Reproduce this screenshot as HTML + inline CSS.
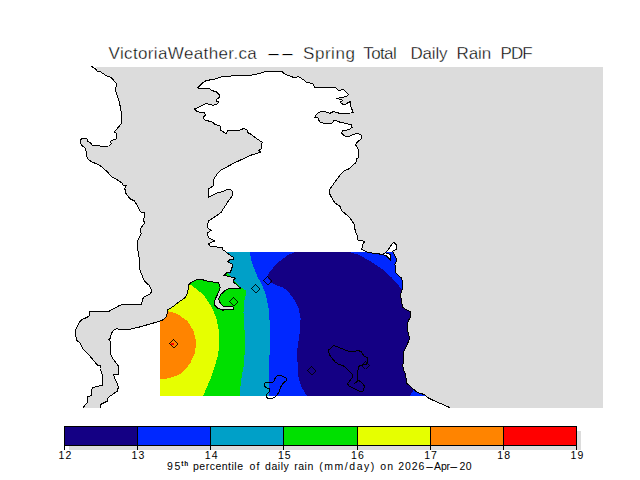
<!DOCTYPE html>
<html><head><meta charset="utf-8"><title>VictoriaWeather.ca -- Spring Total Daily Rain PDF</title>
<style>
html,body{margin:0;padding:0;background:#fff;}
body{width:640px;height:480px;position:relative;overflow:hidden;font-family:"Liberation Sans",sans-serif;color:#000;}
.w{position:absolute;line-height:20px;white-space:nowrap;display:block;}
.title .w{-webkit-text-stroke:0.35px #fff;}
</style></head><body>
<svg width="640" height="480" viewBox="0 0 640 480" style="position:absolute;left:0;top:0" shape-rendering="crispEdges"><defs><clipPath id="land"><polygon points="100.2,407.8 100.6,404.4 107.2,401.2 107.5,398.8 110.0,396.2 117.2,391.2 118.5,386.9 113.5,375.0 118.5,374.0 118.5,366.2 113.8,360.0 110.2,354.0 110.2,341.2 109.0,339.4 110.6,338.1 111.2,333.8 113.8,330.0 116.9,328.5 119.4,329.4 131.2,329.0 140.0,326.9 150.0,324.0 160.0,321.2 163.1,319.7 166.9,316.0 167.2,310.3 174.4,305.6 176.2,303.8 184.7,298.1 187.5,293.4 188.4,288.0 188.6,285.0 190.3,283.1 196.9,279.6 200.6,279.2 209.4,281.6 218.1,282.7 219.4,284.7 220.3,287.5 219.1,290.6 217.2,295.0 215.4,298.8 214.4,302.5 214.7,305.3 217.5,308.1 220.6,309.1 223.1,310.3 224.4,309.5 232.5,309.5 233.9,308.8 233.8,307.5 231.9,306.6 223.4,306.2 220.6,303.8 219.1,300.6 218.8,298.1 220.6,294.7 223.8,291.6 226.9,289.4 230.0,288.4 238.8,288.1 241.2,288.1 238.4,286.6 236.2,284.1 233.4,282.2 233.8,279.4 235.6,278.4 233.8,277.8 230.0,276.6 224.4,275.3 227.2,272.4 230.9,272.0 231.2,268.1 232.5,266.9 231.9,263.8 229.4,262.8 228.1,261.6 230.0,259.4 231.6,260.0 233.4,259.4 233.4,257.2 231.2,256.0 228.4,254.0 226.2,252.5 225.3,251.0 223.1,250.3 222.2,247.8 209.6,245.9 208.5,243.5 214.7,240.9 208.1,237.5 207.8,232.8 211.0,230.4 207.8,228.1 207.2,224.4 209.0,220.6 217.5,215.0 221.2,212.2 227.8,201.9 232.1,195.9 232.5,191.6 231.0,189.7 226.9,189.7 222.2,191.6 217.5,192.9 208.5,197.2 208.1,191.6 209.0,188.4 213.4,185.9 213.8,179.4 216.6,174.7 221.2,170.0 233.4,163.4 250.3,155.4 260.6,152.2 258.8,150.3 261.6,148.8 262.1,142.2 255.0,137.5 251.9,134.8 248.1,132.8 246.9,130.0 243.8,128.5 240.0,130.0 227.5,130.6 226.2,133.8 220.6,130.0 220.0,126.0 215.0,124.4 212.5,122.2 204.4,119.8 203.1,117.5 205.6,115.0 204.4,112.5 197.5,111.9 194.4,109.0 201.2,106.0 205.6,103.5 208.1,104.0 212.5,105.2 216.9,104.4 218.8,102.2 216.9,101.2 216.5,99.4 219.4,97.5 219.4,95.0 216.2,91.5 211.2,90.6 209.4,88.1 206.2,88.5 199.4,89.0 198.1,87.5 202.5,83.1 206.2,80.6 216.2,78.8 222.5,76.4 237.5,75.7 250.6,75.3 259.7,73.4 265.3,71.5 282.2,71.9 285.6,74.6 293.1,77.2 298.8,76.9 304.4,80.2 306.2,82.5 312.8,83.4 314.7,87.2 335.3,87.2 338.1,90.4 343.8,89.6 348.4,94.7 346.6,96.6 337.2,98.4 342.8,100.3 340.0,102.2 343.8,105.0 350.3,101.6 350.9,106.9 353.5,112.9 340.0,113.4 333.4,111.6 329.7,113.4 325.0,111.6 319.4,112.1 316.6,114.4 314.7,117.2 318.4,118.1 319.4,121.9 325.9,123.8 331.6,123.8 334.4,120.0 340.0,122.2 351.2,124.7 352.2,127.5 348.4,129.8 342.8,130.9 341.5,133.1 344.7,135.9 348.4,136.5 356.9,133.1 361.0,135.0 361.6,138.4 356.9,142.5 355.6,145.0 358.5,149.4 359.0,157.2 356.6,158.8 355.9,162.9 352.5,165.3 349.7,168.5 344.0,170.9 340.3,174.7 333.8,183.5 330.0,189.1 329.4,193.4 331.9,198.1 334.7,202.8 339.8,206.0 342.2,211.2 347.8,215.9 350.6,218.8 354.4,224.4 355.3,231.9 356.9,235.0 358.1,240.0 362.5,240.6 364.4,241.9 362.5,244.4 361.9,249.4 366.2,251.9 372.5,253.1 382.5,254.4 385.4,252.9 388.0,250.0 392.0,244.0 393.8,242.5 396.9,245.6 396.2,249.4 392.5,251.2 394.4,254.4 397.1,260.0 395.0,264.4 395.3,272.5 399.4,276.2 401.5,278.1 402.5,282.5 402.2,289.0 400.9,293.8 401.0,298.4 402.5,306.9 406.2,309.7 410.4,311.6 410.4,317.2 408.1,320.9 407.2,328.4 409.6,338.8 407.2,344.4 403.4,351.9 404.0,357.8 402.8,365.6 403.6,370.3 405.9,374.2 406.2,382.8 411.4,387.2 415.3,390.9 420.0,393.4 424.4,394.5 427.8,397.7 432.5,400.0 449.7,407.5"/></clipPath><clipPath id="plot"><rect x="160" y="252" width="280" height="144"/></clipPath><clipPath id="map"><rect x="60" y="67" width="543" height="341"/></clipPath></defs><g clip-path="url(#map)"><polygon points="96.0,67.0 98.0,72.0 100.0,71.5 106.0,75.5 111.0,77.5 116.5,83.5 115.5,90.0 119.5,102.5 121.2,112.5 121.2,122.5 121.5,123.5 114.4,131.9 116.5,133.1 116.5,138.8 113.1,140.0 110.2,141.2 111.2,143.8 108.8,146.0 100.0,146.2 99.0,145.4 92.5,145.4 90.0,142.5 87.5,141.2 86.9,138.8 85.6,138.4 81.9,138.8 80.2,140.0 80.2,143.1 82.5,146.2 85.0,147.8 86.2,151.2 86.5,156.2 88.8,160.0 92.5,162.2 99.4,165.0 103.8,168.8 107.5,171.9 110.0,175.0 112.5,177.5 115.6,178.5 121.9,183.1 123.1,185.0 126.2,185.2 124.4,189.4 125.6,190.0 125.6,193.1 130.6,199.4 134.4,200.6 140.6,211.9 144.4,212.5 143.8,221.2 144.8,223.1 141.2,227.5 140.5,230.0 141.2,233.8 138.0,240.0 137.5,247.5 139.2,258.0 139.2,268.4 142.5,276.4 144.4,281.1 149.1,285.3 151.4,289.5 151.7,291.4 150.0,294.2 144.4,296.8 143.0,298.4 142.2,300.6 141.5,304.9 132.5,304.9 132.2,304.2 123.8,304.2 120.0,305.2 110.0,310.6 109.5,311.4 89.5,311.4 89.5,315.6 86.2,317.8 83.1,318.8 79.4,321.9 77.5,326.2 75.6,329.4 75.6,335.0 76.9,340.6 79.4,342.2 82.5,348.1 85.6,351.9 88.8,354.8 93.1,360.0 97.5,365.2 100.2,365.6 100.0,368.8 102.5,375.0 102.8,385.0 92.2,387.8 91.2,395.6 87.8,396.9 87.2,402.5 83.1,407.8 83.1,408.0 603.0,408.0 603.0,67.0" fill="#dcdcdc"/><polygon points="100.2,407.8 100.6,404.4 107.2,401.2 107.5,398.8 110.0,396.2 117.2,391.2 118.5,386.9 113.5,375.0 118.5,374.0 118.5,366.2 113.8,360.0 110.2,354.0 110.2,341.2 109.0,339.4 110.6,338.1 111.2,333.8 113.8,330.0 116.9,328.5 119.4,329.4 131.2,329.0 140.0,326.9 150.0,324.0 160.0,321.2 163.1,319.7 166.9,316.0 167.2,310.3 174.4,305.6 176.2,303.8 184.7,298.1 187.5,293.4 188.4,288.0 188.6,285.0 190.3,283.1 196.9,279.6 200.6,279.2 209.4,281.6 218.1,282.7 219.4,284.7 220.3,287.5 219.1,290.6 217.2,295.0 215.4,298.8 214.4,302.5 214.7,305.3 217.5,308.1 220.6,309.1 223.1,310.3 224.4,309.5 232.5,309.5 233.9,308.8 233.8,307.5 231.9,306.6 223.4,306.2 220.6,303.8 219.1,300.6 218.8,298.1 220.6,294.7 223.8,291.6 226.9,289.4 230.0,288.4 238.8,288.1 241.2,288.1 238.4,286.6 236.2,284.1 233.4,282.2 233.8,279.4 235.6,278.4 233.8,277.8 230.0,276.6 224.4,275.3 227.2,272.4 230.9,272.0 231.2,268.1 232.5,266.9 231.9,263.8 229.4,262.8 228.1,261.6 230.0,259.4 231.6,260.0 233.4,259.4 233.4,257.2 231.2,256.0 228.4,254.0 226.2,252.5 225.3,251.0 223.1,250.3 222.2,247.8 209.6,245.9 208.5,243.5 214.7,240.9 208.1,237.5 207.8,232.8 211.0,230.4 207.8,228.1 207.2,224.4 209.0,220.6 217.5,215.0 221.2,212.2 227.8,201.9 232.1,195.9 232.5,191.6 231.0,189.7 226.9,189.7 222.2,191.6 217.5,192.9 208.5,197.2 208.1,191.6 209.0,188.4 213.4,185.9 213.8,179.4 216.6,174.7 221.2,170.0 233.4,163.4 250.3,155.4 260.6,152.2 258.8,150.3 261.6,148.8 262.1,142.2 255.0,137.5 251.9,134.8 248.1,132.8 246.9,130.0 243.8,128.5 240.0,130.0 227.5,130.6 226.2,133.8 220.6,130.0 220.0,126.0 215.0,124.4 212.5,122.2 204.4,119.8 203.1,117.5 205.6,115.0 204.4,112.5 197.5,111.9 194.4,109.0 201.2,106.0 205.6,103.5 208.1,104.0 212.5,105.2 216.9,104.4 218.8,102.2 216.9,101.2 216.5,99.4 219.4,97.5 219.4,95.0 216.2,91.5 211.2,90.6 209.4,88.1 206.2,88.5 199.4,89.0 198.1,87.5 202.5,83.1 206.2,80.6 216.2,78.8 222.5,76.4 237.5,75.7 250.6,75.3 259.7,73.4 265.3,71.5 282.2,71.9 285.6,74.6 293.1,77.2 298.8,76.9 304.4,80.2 306.2,82.5 312.8,83.4 314.7,87.2 335.3,87.2 338.1,90.4 343.8,89.6 348.4,94.7 346.6,96.6 337.2,98.4 342.8,100.3 340.0,102.2 343.8,105.0 350.3,101.6 350.9,106.9 353.5,112.9 340.0,113.4 333.4,111.6 329.7,113.4 325.0,111.6 319.4,112.1 316.6,114.4 314.7,117.2 318.4,118.1 319.4,121.9 325.9,123.8 331.6,123.8 334.4,120.0 340.0,122.2 351.2,124.7 352.2,127.5 348.4,129.8 342.8,130.9 341.5,133.1 344.7,135.9 348.4,136.5 356.9,133.1 361.0,135.0 361.6,138.4 356.9,142.5 355.6,145.0 358.5,149.4 359.0,157.2 356.6,158.8 355.9,162.9 352.5,165.3 349.7,168.5 344.0,170.9 340.3,174.7 333.8,183.5 330.0,189.1 329.4,193.4 331.9,198.1 334.7,202.8 339.8,206.0 342.2,211.2 347.8,215.9 350.6,218.8 354.4,224.4 355.3,231.9 356.9,235.0 358.1,240.0 362.5,240.6 364.4,241.9 362.5,244.4 361.9,249.4 366.2,251.9 372.5,253.1 382.5,254.4 385.4,252.9 388.0,250.0 392.0,244.0 393.8,242.5 396.9,245.6 396.2,249.4 392.5,251.2 394.4,254.4 397.1,260.0 395.0,264.4 395.3,272.5 399.4,276.2 401.5,278.1 402.5,282.5 402.2,289.0 400.9,293.8 401.0,298.4 402.5,306.9 406.2,309.7 410.4,311.6 410.4,317.2 408.1,320.9 407.2,328.4 409.6,338.8 407.2,344.4 403.4,351.9 404.0,357.8 402.8,365.6 403.6,370.3 405.9,374.2 406.2,382.8 411.4,387.2 415.3,390.9 420.0,393.4 424.4,394.5 427.8,397.7 432.5,400.0 449.7,407.5" fill="#fff"/></g><g clip-path="url(#land)"><g clip-path="url(#plot)"><rect x="150" y="250" width="300" height="150" fill="#0028ff"/><polygon points="295.0,252.0 349.7,252.0 360.0,255.3 371.2,261.9 382.5,269.4 391.9,277.8 398.4,285.3 402.2,290.0 430.0,290.0 430.0,380.0 416.0,384.0 413.4,390.3 409.8,396.0 307.0,396.0 301.9,387.5 300.0,383.0 298.1,375.0 297.5,362.0 297.2,350.0 300.0,330.0 300.6,318.0 298.4,307.8 294.1,299.4 288.4,291.9 282.8,287.2 276.2,285.3 271.2,282.5 268.2,278.6 267.6,276.6 268.8,273.3 273.4,267.5 280.0,261.0 287.5,255.3" fill="#140084"/><polygon points="150.0,252.0 250.0,252.0 251.0,259.0 253.8,267.5 257.5,276.9 262.2,285.3 265.9,294.7 268.4,306.9 269.5,320.0 269.5,355.0 268.8,380.0 268.8,396.0 150.0,396.0" fill="#00a0c8"/><polygon points="150.0,225.0 215.0,262.0 227.3,272.8 229.8,275.4 234.2,280.7 236.6,283.6 241.5,287.8 245.6,290.3 246.3,292.0 245.9,295.0 244.4,300.0 243.5,312.5 244.5,330.0 245.0,347.5 243.8,365.0 241.2,380.0 239.5,396.0 150.0,396.0" fill="#00e000"/><polygon points="150.0,252.0 188.0,275.0 190.3,284.4 198.8,291.0 203.8,295.0 211.2,306.2 216.2,317.5 218.8,330.0 219.5,342.5 218.0,355.0 214.5,367.5 210.0,380.0 206.2,388.8 203.0,396.0 150.0,396.0" fill="#e6ff00"/><polygon points="150.0,300.0 167.5,311.2 177.5,313.8 187.5,321.2 193.8,331.2 196.2,342.5 195.0,352.5 190.0,363.8 181.2,373.8 170.0,378.0 160.0,379.5 150.0,380.0" fill="#ff8400"/><rect x="171" y="343" width="3" height="2" fill="#ff0000"/></g></g><polygon points="382.5,254.4 386.2,255.6 390.2,259.8 390.6,254.4 385.4,252.9" fill="#fff"/><g fill="none" stroke="#000" stroke-width="1"><polyline points="91.0,66.0 95.0,68.5 98.0,72.0 100.0,71.5 106.0,75.5 111.0,77.5 116.5,83.5 115.5,90.0 119.5,102.5 121.2,112.5 121.2,122.5 121.5,123.5 114.4,131.9 116.5,133.1 116.5,138.8 113.1,140.0 110.2,141.2 111.2,143.8 108.8,146.0 100.0,146.2 99.0,145.4 92.5,145.4 90.0,142.5 87.5,141.2 86.9,138.8 85.6,138.4 81.9,138.8 80.2,140.0 80.2,143.1 82.5,146.2 85.0,147.8 86.2,151.2 86.5,156.2 88.8,160.0 92.5,162.2 99.4,165.0 103.8,168.8 107.5,171.9 110.0,175.0 112.5,177.5 115.6,178.5 121.9,183.1 123.1,185.0 126.2,185.2 124.4,189.4 125.6,190.0 125.6,193.1 130.6,199.4 134.4,200.6 140.6,211.9 144.4,212.5 143.8,221.2 144.8,223.1 141.2,227.5 140.5,230.0 141.2,233.8 138.0,240.0 137.5,247.5 139.2,258.0 139.2,268.4 142.5,276.4 144.4,281.1 149.1,285.3 151.4,289.5 151.7,291.4 150.0,294.2 144.4,296.8 143.0,298.4 142.2,300.6 141.5,304.9 132.5,304.9 132.2,304.2 123.8,304.2 120.0,305.2 110.0,310.6 109.5,311.4 89.5,311.4 89.5,315.6 86.2,317.8 83.1,318.8 79.4,321.9 77.5,326.2 75.6,329.4 75.6,335.0 76.9,340.6 79.4,342.2 82.5,348.1 85.6,351.9 88.8,354.8 93.1,360.0 97.5,365.2 100.2,365.6 100.0,368.8 102.5,375.0 102.8,385.0 92.2,387.8 91.2,395.6 87.8,396.9 87.2,402.5 83.1,407.8"/><polyline points="100.2,407.8 100.6,404.4 107.2,401.2 107.5,398.8 110.0,396.2 117.2,391.2 118.5,386.9 113.5,375.0 118.5,374.0 118.5,366.2 113.8,360.0 110.2,354.0 110.2,341.2 109.0,339.4 110.6,338.1 111.2,333.8 113.8,330.0 116.9,328.5 119.4,329.4 131.2,329.0 140.0,326.9 150.0,324.0 160.0,321.2 163.1,319.7 166.9,316.0 167.2,310.3 174.4,305.6 176.2,303.8 184.7,298.1 187.5,293.4 188.4,288.0 188.6,285.0 190.3,283.1 196.9,279.6 200.6,279.2 209.4,281.6 218.1,282.7 219.4,284.7 220.3,287.5 219.1,290.6 217.2,295.0 215.4,298.8 214.4,302.5 214.7,305.3 217.5,308.1 220.6,309.1 223.1,310.3 224.4,309.5 232.5,309.5 233.9,308.8 233.8,307.5 231.9,306.6 223.4,306.2 220.6,303.8 219.1,300.6 218.8,298.1 220.6,294.7 223.8,291.6 226.9,289.4 230.0,288.4 238.8,288.1 241.2,288.1 238.4,286.6 236.2,284.1 233.4,282.2 233.8,279.4 235.6,278.4 233.8,277.8 230.0,276.6 224.4,275.3 227.2,272.4 230.9,272.0 231.2,268.1 232.5,266.9 231.9,263.8 229.4,262.8 228.1,261.6 230.0,259.4 231.6,260.0 233.4,259.4 233.4,257.2 231.2,256.0 228.4,254.0 226.2,252.5 225.3,251.0 223.1,250.3 222.2,247.8 209.6,245.9 208.5,243.5 214.7,240.9 208.1,237.5 207.8,232.8 211.0,230.4 207.8,228.1 207.2,224.4 209.0,220.6 217.5,215.0 221.2,212.2 227.8,201.9 232.1,195.9 232.5,191.6 231.0,189.7 226.9,189.7 222.2,191.6 217.5,192.9 208.5,197.2 208.1,191.6 209.0,188.4 213.4,185.9 213.8,179.4 216.6,174.7 221.2,170.0 233.4,163.4 250.3,155.4 260.6,152.2 258.8,150.3 261.6,148.8 262.1,142.2 255.0,137.5 251.9,134.8 248.1,132.8 246.9,130.0 243.8,128.5 240.0,130.0 227.5,130.6 226.2,133.8 220.6,130.0 220.0,126.0 215.0,124.4 212.5,122.2 204.4,119.8 203.1,117.5 205.6,115.0 204.4,112.5 197.5,111.9 194.4,109.0 201.2,106.0 205.6,103.5 208.1,104.0 212.5,105.2 216.9,104.4 218.8,102.2 216.9,101.2 216.5,99.4 219.4,97.5 219.4,95.0 216.2,91.5 211.2,90.6 209.4,88.1 206.2,88.5 199.4,89.0 198.1,87.5 202.5,83.1 206.2,80.6 216.2,78.8 222.5,76.4 237.5,75.7 250.6,75.3 259.7,73.4 265.3,71.5 282.2,71.9 285.6,74.6 293.1,77.2 298.8,76.9 304.4,80.2 306.2,82.5 312.8,83.4 314.7,87.2 335.3,87.2 338.1,90.4 343.8,89.6 348.4,94.7 346.6,96.6 337.2,98.4 342.8,100.3 340.0,102.2 343.8,105.0 350.3,101.6 350.9,106.9 353.5,112.9 340.0,113.4 333.4,111.6 329.7,113.4 325.0,111.6 319.4,112.1 316.6,114.4 314.7,117.2 318.4,118.1 319.4,121.9 325.9,123.8 331.6,123.8 334.4,120.0 340.0,122.2 351.2,124.7 352.2,127.5 348.4,129.8 342.8,130.9 341.5,133.1 344.7,135.9 348.4,136.5 356.9,133.1 361.0,135.0 361.6,138.4 356.9,142.5 355.6,145.0 358.5,149.4 359.0,157.2 356.6,158.8 355.9,162.9 352.5,165.3 349.7,168.5 344.0,170.9 340.3,174.7 333.8,183.5 330.0,189.1 329.4,193.4 331.9,198.1 334.7,202.8 339.8,206.0 342.2,211.2 347.8,215.9 350.6,218.8 354.4,224.4 355.3,231.9 356.9,235.0 358.1,240.0 362.5,240.6 364.4,241.9 362.5,244.4 361.9,249.4 366.2,251.9 372.5,253.1 382.5,254.4 385.4,252.9 388.0,250.0 392.0,244.0 393.8,242.5 396.9,245.6 396.2,249.4 392.5,251.2 394.4,254.4 397.1,260.0 395.0,264.4 395.3,272.5 399.4,276.2 401.5,278.1 402.5,282.5 402.2,289.0 400.9,293.8 401.0,298.4 402.5,306.9 406.2,309.7 410.4,311.6 410.4,317.2 408.1,320.9 407.2,328.4 409.6,338.8 407.2,344.4 403.4,351.9 404.0,357.8 402.8,365.6 403.6,370.3 405.9,374.2 406.2,382.8 411.4,387.2 415.3,390.9 420.0,393.4 424.4,394.5 427.8,397.7 432.5,400.0 449.7,407.5"/><polygon points="382.5,254.4 386.2,255.6 390.2,259.8 390.6,254.4 385.4,252.9"/><polygon points="333.8,345.0 328.1,350.6 330.0,355.6 335.0,361.9 338.8,364.4 343.1,365.6 347.5,369.4 352.5,374.4 352.2,377.5 347.5,383.8 349.4,386.2 355.0,389.0 359.4,391.2 363.1,391.0 364.4,386.2 362.5,383.1 359.0,380.6 354.4,383.5 357.2,381.2 357.5,372.5 359.0,366.2 362.5,365.0 366.2,364.4 367.5,361.9 367.2,357.5 364.4,356.2 361.2,351.9 358.1,350.2 355.6,351.2 348.1,351.2 342.5,348.8 335.6,346.2"/><polygon points="278.1,375.2 280.6,375.4 283.1,376.5 286.5,378.5 286.2,380.6 283.1,383.5 280.2,387.5 279.8,390.6 277.5,394.4 275.2,396.9 272.5,398.1 268.1,398.5 266.5,396.9 266.9,394.4 269.0,391.9 269.0,388.8 265.6,387.5 264.4,385.6 264.8,383.1 266.9,382.2 271.9,382.8 273.8,381.2 275.6,377.2 278.1,375.2"/></g><g fill="none" stroke="#000" stroke-width="0.85"><polygon points="173.5,339.1 177.9,343.5 173.5,347.9 169.1,343.5" /><polygon points="233.5,297.1 237.9,301.5 233.5,305.9 229.1,301.5" /><polygon points="255.5,284.1 259.9,288.5 255.5,292.9 251.1,288.5" /><polygon points="267.5,276.1 271.9,280.5 267.5,284.9 263.1,280.5" /><polygon points="311.5,366.1 315.9,370.5 311.5,374.9 307.1,370.5" /><polygon points="365.5,360.5 369.5,364.5 365.5,368.5 361.5,364.5" /></g><rect x="68.5" y="431" width="512.5" height="19" fill="#dcdcdc"/><rect x="64.50" y="426.5" width="73.14" height="19" fill="#140084"/><rect x="137.64" y="426.5" width="73.14" height="19" fill="#0028ff"/><rect x="210.79" y="426.5" width="73.14" height="19" fill="#00a0c8"/><rect x="283.93" y="426.5" width="73.14" height="19" fill="#00e000"/><rect x="357.07" y="426.5" width="73.14" height="19" fill="#e6ff00"/><rect x="430.21" y="426.5" width="73.14" height="19" fill="#ff8400"/><rect x="503.36" y="426.5" width="73.14" height="19" fill="#ff0000"/><g fill="none" stroke="#000" stroke-width="1"><rect x="64.5" y="426.5" width="512" height="19"/><line x1="64.5" y1="426" x2="64.5" y2="450"/><line x1="137.5" y1="426" x2="137.5" y2="450"/><line x1="210.5" y1="426" x2="210.5" y2="450"/><line x1="283.5" y1="426" x2="283.5" y2="450"/><line x1="357.5" y1="426" x2="357.5" y2="450"/><line x1="430.5" y1="426" x2="430.5" y2="450"/><line x1="503.5" y1="426" x2="503.5" y2="450"/><line x1="576.5" y1="426" x2="576.5" y2="450"/></g></svg>
<div class="title"><span class="w" style="left:108.50px;top:44px;font-size:17px;letter-spacing:0.368px;">VictoriaWeather.ca</span><span class="w" style="left:265.81px;top:44px;font-size:17px;letter-spacing:0.000px;transform:scaleX(2.659);transform-origin:0 50%;">-</span><span class="w" style="left:279.92px;top:44px;font-size:17px;letter-spacing:0.000px;transform:scaleX(2.635);transform-origin:0 50%;">-</span><span class="w" style="left:303.00px;top:44px;font-size:17px;letter-spacing:0.550px;">Spring</span><span class="w" style="left:363.25px;top:44px;font-size:17px;letter-spacing:-0.625px;">Total</span><span class="w" style="left:410.50px;top:44px;font-size:17px;letter-spacing:-0.188px;">Daily</span><span class="w" style="left:456.50px;top:44px;font-size:17px;letter-spacing:-0.083px;">Rain</span><span class="w" style="left:500.50px;top:44px;font-size:17px;letter-spacing:-0.875px;">PDF</span></div>
<div class="labels"><span class="w" style="left:58.45px;top:445px;font-size:10.5px;letter-spacing:1.100px;">12</span><span class="w" style="left:131.59px;top:445px;font-size:10.5px;letter-spacing:1.100px;">13</span><span class="w" style="left:204.74px;top:445px;font-size:10.5px;letter-spacing:1.100px;">14</span><span class="w" style="left:277.88px;top:445px;font-size:10.5px;letter-spacing:1.100px;">15</span><span class="w" style="left:351.02px;top:445px;font-size:10.5px;letter-spacing:1.100px;">16</span><span class="w" style="left:424.16px;top:445px;font-size:10.5px;letter-spacing:1.100px;">17</span><span class="w" style="left:497.31px;top:445px;font-size:10.5px;letter-spacing:1.100px;">18</span><span class="w" style="left:570.45px;top:445px;font-size:10.5px;letter-spacing:1.100px;">19</span></div>
<div class="cap"><span class="w" style="left:167.00px;top:456px;font-size:10.5px;letter-spacing:1.750px;">95</span><span class="w" style="left:181.25px;top:453.5px;font-size:6.5px;font-weight:bold;letter-spacing:0.750px;">th</span><span class="w" style="left:193.00px;top:456px;font-size:10.5px;letter-spacing:0.500px;">percentile</span><span class="w" style="left:249.50px;top:456px;font-size:10.5px;letter-spacing:1.250px;">of</span><span class="w" style="left:265.00px;top:456px;font-size:10.5px;letter-spacing:0.562px;">daily</span><span class="w" style="left:294.25px;top:456px;font-size:10.5px;letter-spacing:0.500px;">rain</span><span class="w" style="left:319.25px;top:456px;font-size:10.5px;letter-spacing:1.536px;">(mm/day)</span><span class="w" style="left:380.25px;top:456px;font-size:10.5px;letter-spacing:1.250px;">on</span><span class="w" style="left:398.25px;top:456px;font-size:10.5px;letter-spacing:0.917px;">2026</span><span class="w" style="left:424.70px;top:456px;font-size:10.5px;letter-spacing:0.000px;transform:scaleX(2.600);transform-origin:0 50%;">-</span><span class="w" style="left:434.00px;top:456px;font-size:10.5px;letter-spacing:-0.125px;">Apr</span><span class="w" style="left:449.46px;top:456px;font-size:10.5px;letter-spacing:0.000px;transform:scaleX(2.680);transform-origin:0 50%;">-</span><span class="w" style="left:459.50px;top:456px;font-size:10.5px;letter-spacing:0.500px;">20</span></div>
</body></html>
